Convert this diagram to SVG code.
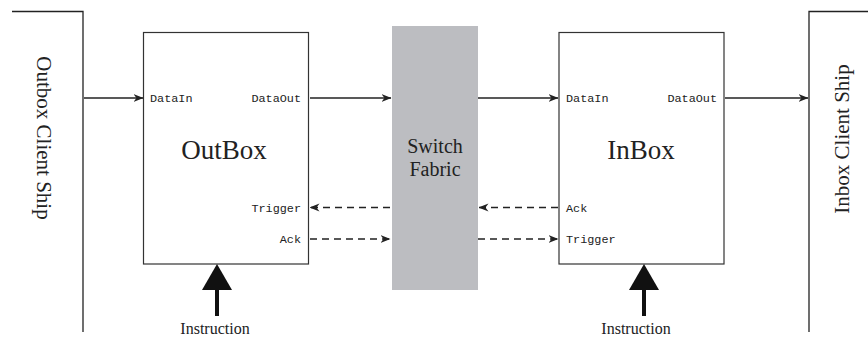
<svg xmlns="http://www.w3.org/2000/svg" width="868" height="337" viewBox="0 0 868 337">
<style>
.ln{stroke:#222;stroke-width:1.3;fill:none}
.box{fill:#fff;stroke:#333;stroke-width:1.2}
.dash{stroke:#222;stroke-width:1.3;fill:none;stroke-dasharray:7 5}
.serif{font-family:"Liberation Serif","DejaVu Serif",serif;fill:#222}
.mono{font-family:"Liberation Mono","DejaVu Sans Mono",monospace;font-size:11.8px;fill:#222}
.big{fill:#111}
</style>
<defs>
<marker id="ah" viewBox="0 0 10 10" refX="9.5" refY="5" markerWidth="10" markerHeight="10" markerUnits="userSpaceOnUse" orient="auto">
<path d="M0,1 L10,5 L0,9 L3,5 Z" fill="#222"/>
</marker>
</defs>
<g id="outbox-ship">
<path class="ln" d="M12,11.5 H83 V332"/>
<text class="serif" font-size="21" transform="translate(37,138) rotate(90)" text-anchor="middle">Outbox Client Ship</text>
</g>
<g id="outbox">
<rect class="box" x="143.5" y="32.5" width="165" height="231.5"/>
<text class="serif" font-size="27" x="224" y="159" text-anchor="middle">OutBox</text>
<text class="mono" x="150" y="102">DataIn</text>
<text class="mono" x="301" y="102" text-anchor="end">DataOut</text>
<text class="mono" x="301" y="212" text-anchor="end">Trigger</text>
<text class="mono" x="301" y="243" text-anchor="end">Ack</text>
</g>
<g id="fabric">
<rect x="392" y="26" width="86" height="264" fill="#bcbdc1"/>
<text class="serif" font-size="20" x="435" y="153" text-anchor="middle">Switch</text>
<text class="serif" font-size="20" x="435" y="176" text-anchor="middle">Fabric</text>
</g>
<g id="inbox">
<rect class="box" x="559" y="32.5" width="165" height="231.5"/>
<text class="serif" font-size="27" x="641" y="159" text-anchor="middle">InBox</text>
<text class="mono" x="566" y="102">DataIn</text>
<text class="mono" x="717" y="102" text-anchor="end">DataOut</text>
<text class="mono" x="566" y="212">Ack</text>
<text class="mono" x="566" y="243">Trigger</text>
</g>
<g id="inbox-ship">
<path class="ln" d="M868,11.5 H809 V332"/>
<text class="serif" font-size="21" transform="translate(849,139) rotate(-90)" text-anchor="middle">Inbox Client Ship</text>
</g>
<g id="instr-out">
<path class="big" d="M202,290 L232,290 L217,264 Z"/>
<rect class="big" x="215" y="289" width="4" height="27"/>
<text class="serif" font-size="16" x="215" y="334" text-anchor="middle">Instruction</text>
</g>
<g id="instr-in">
<path class="big" d="M629,290 L659,290 L644,264 Z"/>
<rect class="big" x="642" y="289" width="4" height="27"/>
<text class="serif" font-size="16" x="636" y="334" text-anchor="middle">Instruction</text>
</g>
<g id="connectors">
<line class="ln" x1="84" y1="98" x2="143" y2="98" marker-end="url(#ah)"/>
<line class="ln" x1="310" y1="98" x2="391" y2="98" marker-end="url(#ah)"/>
<line class="ln" x1="478" y1="98" x2="558" y2="98" marker-end="url(#ah)"/>
<line class="ln" x1="725" y1="98" x2="808" y2="98" marker-end="url(#ah)"/>
<line class="dash" x1="390" y1="207.5" x2="310" y2="207.5" marker-end="url(#ah)"/>
<line class="dash" x1="558" y1="207.5" x2="479" y2="207.5" marker-end="url(#ah)"/>
<line class="dash" x1="310" y1="239" x2="390" y2="239" marker-end="url(#ah)"/>
<line class="dash" x1="478" y1="239" x2="558" y2="239" marker-end="url(#ah)"/>
</g>
</svg>
